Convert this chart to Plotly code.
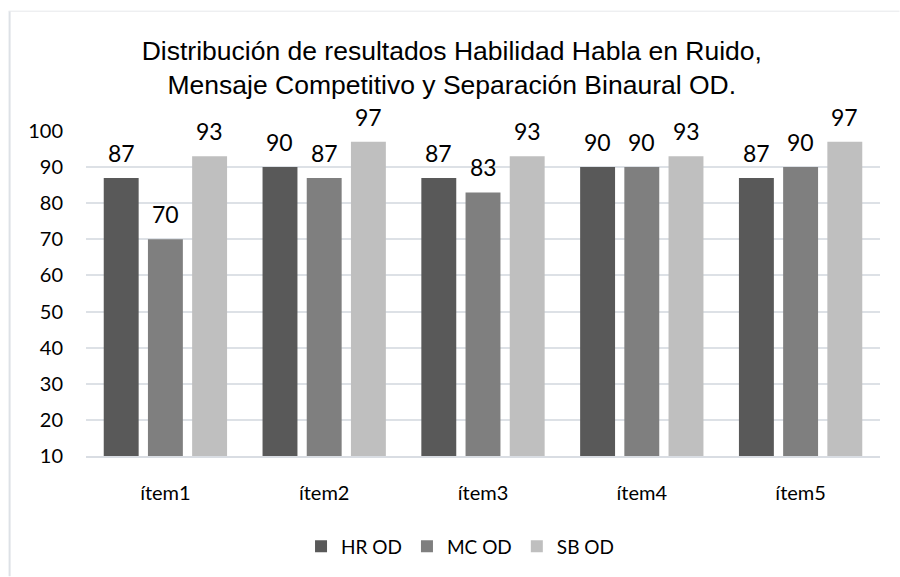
import plotly.graph_objects as go

categories = ["ítem1", "ítem2", "ítem3", "ítem4", "ítem5"]
series_names = ["HR OD", "MC OD", "SB OD"]
hr_od = [87, 90, 87, 90, 87]
mc_od = [70, 87, 83, 90, 90]
sb_od = [93, 97, 93, 93, 97]
colors = ["#595959", "#7f7f7f", "#bfbfbf"]
y_ticks = [10, 20, 30, 40, 50, 60, 70, 80, 90, 100]

W, H = 900, 577
L, R, T, B = 85.5, 19.5, 131, 120.5
pw, ph = W - L - R, H - T - B
FONT = "Lato, Open Sans, sans-serif"

fig = go.Figure()
for name, vals, col in zip(series_names, [hr_od, mc_od, sb_od], colors):
    fig.add_trace(go.Bar(
        x=categories, y=vals, name=name,
        marker=dict(color=col, line=dict(width=0)),
        cliponaxis=False,
    ))

annotations = []
slot_px = 44.25
for i, vals in enumerate([hr_od, mc_od, sb_od]):
    for c, v in zip(categories, vals):
        annotations.append(dict(
            x=c, y=v, xref="x", yref="y", text=str(v), showarrow=False,
            xshift=(i - 1) * slot_px, yshift=25, yanchor="middle", xanchor="center",
            font=dict(family=FONT, size=23, color="#000000"),
        ))

def px_to_paper_x(px):
    return (px - L) / pw

def px_to_paper_y(py):
    return (H - B - py) / ph

fig.update_layout(
    width=W, height=H,
    margin=dict(l=L, r=R, t=T, b=B, pad=0),
    paper_bgcolor="white", plot_bgcolor="white",
    barmode="group", bargap=0.165, bargroupgap=0.21,
    title=dict(
        text="Distribución de resultados Habilidad Habla en Ruido,<br>Mensaje Competitivo y Separación Binaural OD.",
        x=0.502, xanchor="center", y=1 - 60 / H, yanchor="middle",
        font=dict(family="Liberation Sans, Arial, sans-serif", size=26.5, color="#000000"),
    ),
    xaxis=dict(
        showgrid=False, showline=True, linecolor="#d9dde3", linewidth=1.5,
        ticks="", tickfont=dict(family=FONT, size=20, color="#000000"),
        ticklabelstandoff=18,
    ),
    yaxis=dict(
        range=[10, 100], tickvals=y_ticks, showgrid=True, gridcolor="#dde1e6", gridwidth=1.5,
        zeroline=False, showline=False, ticks="",
        tickfont=dict(family=FONT, size=20, color="#000000"),
        ticklabelstandoff=22,
    ),
    legend=dict(
        orientation="h", x=px_to_paper_x(460), xanchor="center", y=px_to_paper_y(547), yanchor="middle",
        font=dict(family=FONT, size=19, color="#000000"),
        itemwidth=30, traceorder="normal",
    ),
    showlegend=True,
    annotations=annotations,
    shapes=[
        dict(type="line", xref="paper", yref="paper",
             x0=px_to_paper_x(9), x1=px_to_paper_x(9), y0=px_to_paper_y(11), y1=px_to_paper_y(577),
             line=dict(color="#dde1e6", width=2)),
        dict(type="line", xref="paper", yref="paper",
             x0=px_to_paper_x(8), x1=px_to_paper_x(900), y0=px_to_paper_y(11), y1=px_to_paper_y(11),
             line=dict(color="#e6e8eb", width=1)),
    ],
)

fig.write_html("out.html", config={"displayModeBar": False},
               post_script="document.body.style.margin='0';")
